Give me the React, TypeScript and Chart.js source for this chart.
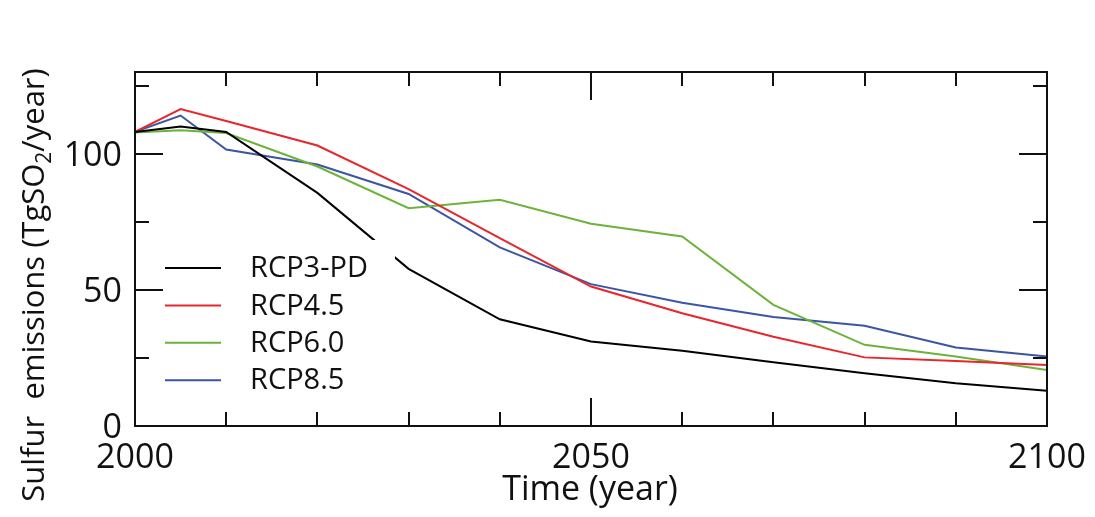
import React, { useEffect, useRef } from "react";
import { Chart, registerables } from "chart.js";

Chart.register(...registerables);

// ---- data ----
const years = [2000, 2005, 2010, 2020, 2030, 2040, 2050, 2060, 2070, 2080, 2090, 2100];
const rcp3pd = [108, 110, 108, 85.6, 57.7, 39.2, 31, 27.6, 23.4, 19.4, 15.7, 12.9];
const rcp45 = [108, 116.4, 112, 103, 87, 69, 51.2, 41.4, 32.8, 25.2, 23.9, 22.4];
const rcp60 = [107.8, 108.6, 107.6, 95.3, 80, 83.1, 74.3, 69.6, 44.5, 29.8, 25.5, 20.6];
const rcp85 = [108, 114, 101.5, 96, 85.2, 65.6, 52.1, 45.3, 40, 36.8, 28.8, 25.5];

const seriesNames = ["RCP3-PD", "RCP4.5", "RCP6.0", "RCP8.5"];
const seriesColors = ["#000000", "#e8262c", "#6cb33a", "#3b55a5"];

const xMajorTicks = [2000, 2050, 2100];
const xMinorTicks = [2010, 2020, 2030, 2040, 2060, 2070, 2080, 2090];
const yMajorTicks = [0, 50, 100];
const yMinorTicks = [25, 75, 125];

const xTitle = "Time (year)";
const yTitleParts = ["Sulfur  emissions (TgSO", "2", "/year)"];

const FONT = "'Open Sans', 'Noto Sans', sans-serif";

const decorPlugin = {
  id: "decor",
  afterDatasetsDraw(chart: any) {
    const { ctx, chartArea: a } = chart;
    // legend with white background (covers lines beneath)
    ctx.save();
    ctx.fillStyle = "#ffffff";
    ctx.fillRect(a.left + 15, a.top + 168, 245, 160);
    ctx.font = `29px ${FONT}`;
    ctx.textBaseline = "middle";
    ctx.textAlign = "left";
    seriesNames.forEach((name, i) => {
      const yy = a.top + 196 + i * 37.4;
      ctx.strokeStyle = seriesColors[i];
      ctx.lineWidth = 2;
      ctx.beginPath();
      ctx.moveTo(a.left + 30, yy);
      ctx.lineTo(a.left + 86, yy);
      ctx.stroke();
      ctx.fillStyle = "#111";
      ctx.fillText(name, a.left + 115, yy + 1);
    });
    ctx.restore();
  },
  afterDraw(chart: any) {
    const { ctx, chartArea: a, scales } = chart;
    const xs = scales.x;
    const ys = scales.y;
    ctx.save();
    ctx.strokeStyle = "#111";
    ctx.lineWidth = 2;
    ctx.strokeRect(a.left, a.top, a.right - a.left, a.bottom - a.top);

    const major = 28;
    const minor = 14;
    const drawX = (v: number, len: number) => {
      const px = Math.round(xs.getPixelForValue(v));
      ctx.beginPath();
      ctx.moveTo(px, a.bottom);
      ctx.lineTo(px, a.bottom - len);
      ctx.moveTo(px, a.top);
      ctx.lineTo(px, a.top + len);
      ctx.stroke();
    };
    const drawY = (v: number, len: number) => {
      const py = Math.round(ys.getPixelForValue(v));
      ctx.beginPath();
      ctx.moveTo(a.left, py);
      ctx.lineTo(a.left + len, py);
      ctx.moveTo(a.right, py);
      ctx.lineTo(a.right - len, py);
      ctx.stroke();
    };
    xMajorTicks.forEach((v) => drawX(v, major));
    xMinorTicks.forEach((v) => drawX(v, minor));
    yMajorTicks.forEach((v) => drawY(v, major));
    yMinorTicks.forEach((v) => drawY(v, minor));

    // tick labels
    ctx.fillStyle = "#111";
    ctx.font = `34px ${FONT}`;
    ctx.textBaseline = "alphabetic";
    ctx.textAlign = "center";
    xMajorTicks.forEach((v) => {
      ctx.fillText(String(v), xs.getPixelForValue(v), a.bottom + 42);
    });
    ctx.textAlign = "right";
    yMajorTicks.forEach((v) => {
      ctx.fillText(String(v), a.left - 13, ys.getPixelForValue(v) + 12);
    });

    // x title
    ctx.textAlign = "center";
    ctx.font = `34px ${FONT}`;
    ctx.fillText(xTitle, (a.left + a.right) / 2 - 1, a.bottom + 74);

    // y title (rotated, with subscript)
    ctx.translate(44, 285);
    ctx.rotate(-Math.PI / 2);
    const bigFont = `31px ${FONT}`;
    const smallFont = `21px ${FONT}`;
    ctx.font = bigFont;
    const w0 = ctx.measureText(yTitleParts[0]).width;
    const w2 = ctx.measureText(yTitleParts[2]).width;
    ctx.font = smallFont;
    const w1 = ctx.measureText(yTitleParts[1]).width;
    const total = w0 + w1 + w2;
    let cx = -total / 2;
    ctx.textAlign = "left";
    ctx.font = bigFont;
    ctx.fillText(yTitleParts[0], cx, 0);
    cx += w0;
    ctx.font = smallFont;
    ctx.fillText(yTitleParts[1], cx, 7);
    cx += w1;
    ctx.font = bigFont;
    ctx.fillText(yTitleParts[2], cx, 0);
    ctx.restore();
  },
};

export default function App() {
  const canvasRef = useRef<HTMLCanvasElement | null>(null);

  useEffect(() => {
    const canvas = canvasRef.current;
    if (!canvas) return;
    const all = [rcp3pd, rcp45, rcp60, rcp85];
    const chart = new Chart(canvas, {
      type: "line",
      data: {
        datasets: all.map((vals, i) => ({
          label: seriesNames[i],
          data: years.map((yr, j) => ({ x: yr, y: vals[j] })),
          borderColor: seriesColors[i],
          backgroundColor: seriesColors[i],
          borderWidth: 2,
          pointRadius: 0,
          tension: 0,
          fill: false,
        })),
      },
      options: {
        responsive: false,
        animation: false,
        devicePixelRatio: 1,
        layout: { padding: { left: 135, right: 48, top: 72, bottom: 91 } },
        scales: {
          x: { type: "linear", min: 2000, max: 2100, display: false },
          y: { type: "linear", min: 0, max: 130, display: false },
        },
        plugins: {
          legend: { display: false },
          tooltip: { enabled: false },
        },
      },
      plugins: [decorPlugin],
    });
    return () => chart.destroy();
  }, []);

  return (
    <div style={{ position: "absolute", left: 0, top: 0, width: 1095, height: 517, background: "#fff" }}>
      <canvas ref={canvasRef} width={1095} height={517} />
    </div>
  );
}
